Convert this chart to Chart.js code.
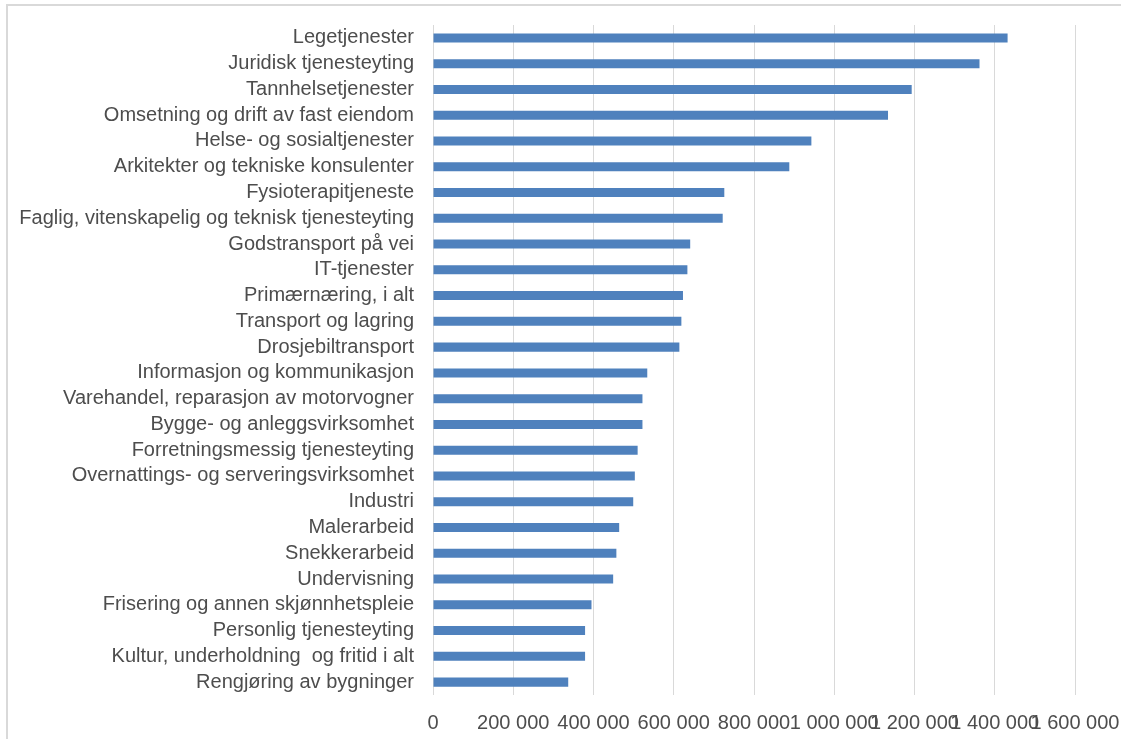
<!DOCTYPE html>
<html>
<head>
<meta charset="utf-8">
<script src="https://cdn.jsdelivr.net/npm/chart.js@4"></script>
<style>
  html, body { margin: 0; padding: 0; background: #fff; }
  #wrap { width: 1130px; height: 739px; }
</style>
</head>
<body>
<div id="wrap"><canvas id="naeringChart" width="1130" height="739"></canvas></div>
<script>
// Kategorier (næringer), fra topp til bunn
const categories = [
    "Legetjenester",
    "Juridisk tjenesteyting",
    "Tannhelsetjenester",
    "Omsetning og drift av fast eiendom",
    "Helse- og sosialtjenester",
    "Arkitekter og tekniske konsulenter",
    "Fysioterapitjeneste",
    "Faglig, vitenskapelig og teknisk tjenesteyting",
    "Godstransport på vei",
    "IT-tjenester",
    "Primærnæring, i alt",
    "Transport og lagring",
    "Drosjebiltransport",
    "Informasjon og kommunikasjon",
    "Varehandel, reparasjon av motorvogner",
    "Bygge- og anleggsvirksomhet",
    "Forretningsmessig tjenesteyting",
    "Overnattings- og serveringsvirksomhet",
    "Industri",
    "Malerarbeid",
    "Snekkerarbeid",
    "Undervisning",
    "Frisering og annen skjønnhetspleie",
    "Personlig tjenesteyting",
    "Kultur, underholdning  og fritid i alt",
    "Rengjøring av bygninger"
];

// Verdier lest av figuren
const values = [
    1432000, 1362000, 1193000, 1134000, 943000, 888000,
    726000, 722000, 641000, 634000, 623000, 619000, 614000,
    534000, 522000, 522000, 510000, 503000, 499000,
    464000, 457000, 449000, 395000, 379000, 379000, 337000
];

// Akseverdier
const xTicks = [0, 200000, 400000, 600000, 800000, 1000000, 1200000, 1400000, 1600000];

function formatNumber(n) {
    return n.toString().replace(/\B(?=(\d{3})+(?!\d))/g, " ");
}

// Tynn grå ramme rundt figuren (venstre og topp)
const framePlugin = {
    id: 'frame',
    beforeDraw(chart) {
        const c = chart.ctx;
        c.save();
        c.strokeStyle = '#d9d9d9';
        c.lineWidth = 2;
        c.beginPath();
        c.moveTo(7, 800);
        c.lineTo(7, 5);
        c.lineTo(1121, 5);
        c.stroke();
        c.restore();
    }
};

const textColor = '#4d4d4d';
const fontFamily = '"Liberation Sans", Arial, Helvetica, sans-serif';

const ctx = document.getElementById('naeringChart').getContext('2d');
new Chart(ctx, {
    type: 'bar',
    data: {
        labels: categories,
        datasets: [{
            data: values,
            backgroundColor: '#4f81bd',
            borderWidth: 0,
            barPercentage: 0.35,
            categoryPercentage: 1
        }]
    },
    options: {
        indexAxis: 'y',
        responsive: false,
        animation: false,
        layout: { padding: { top: 25, right: 55, left: 0, bottom: 0 } },
        plugins: {
            legend: { display: false },
            tooltip: { enabled: false }
        },
        scales: {
            x: {
                min: 0,
                max: 1600000,
                afterFit: scale => {
                    scale.height = 44;
                    scale.paddingLeft = 0;
                    scale.paddingRight = 0;
                },
                afterBuildTicks: scale => { scale.ticks = xTicks.map(v => ({ value: v })); },
                grid: { color: '#d9d9d9', lineWidth: 1, drawTicks: false },
                border: { display: false },
                ticks: {
                    autoSkip: false,
                    maxRotation: 0,
                    padding: 16,
                    color: textColor,
                    font: { family: fontFamily, size: 20 },
                    callback: v => formatNumber(v)
                }
            },
            y: {
                afterFit: scale => {
                    scale.width = 433;
                    scale.paddingTop = 0;
                    scale.paddingBottom = 0;
                },
                grid: { display: false, drawTicks: false },
                border: { display: false },
                ticks: {
                    autoSkip: false,
                    padding: 19,
                    color: textColor,
                    font: { family: fontFamily, size: 20 }
                }
            }
        }
    },
    plugins: [framePlugin]
});
</script>
</body>
</html>
